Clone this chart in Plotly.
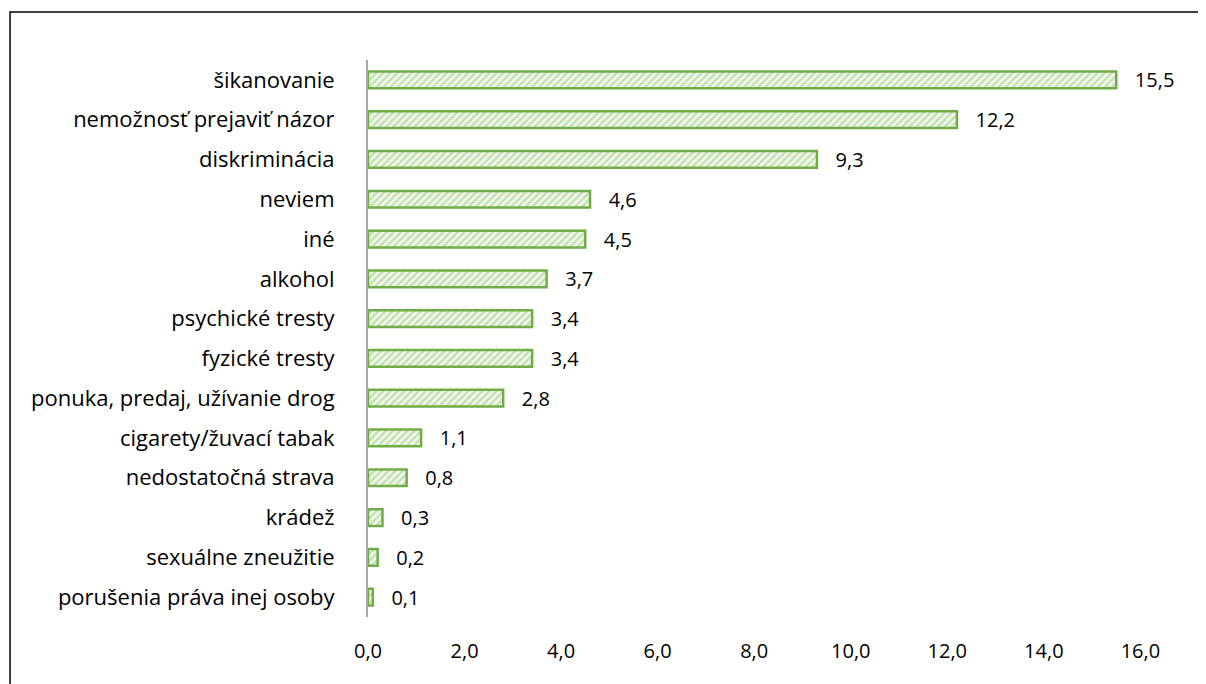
import plotly.graph_objects as go

categories = [
    "šikanovanie",
    "nemožnosť prejaviť názor",
    "diskriminácia",
    "neviem",
    "iné",
    "alkohol",
    "psychické tresty",
    "fyzické tresty",
    "ponuka, predaj, užívanie drog",
    "cigarety/žuvací tabak",
    "nedostatočná strava",
    "krádež",
    "sexuálne zneužitie",
    "porušenia práva inej osoby",
]
values = [15.5, 12.2, 9.3, 4.6, 4.5, 3.7, 3.4, 3.4, 2.8, 1.1, 0.8, 0.3, 0.2, 0.1]
x_ticks = [0, 2, 4, 6, 8, 10, 12, 14, 16]

GREEN = "#70ad47"
FONT = "Open Sans"

fig = go.Figure(go.Bar(
    x=values,
    y=categories,
    orientation="h",
    width=0.42,
    marker=dict(
        color="#f4f9f0",
        line=dict(color=GREEN, width=2.5),
        pattern=dict(shape="/", fgcolor="#94c873", bgcolor="#f4f9f0", size=5, solidity=0.5),
    ),
    text=values,
    texttemplate="\u00a0\u00a0\u00a0%{x:.1f}",
    textposition="outside",
    constraintext="none",
    textfont=dict(family=FONT, size=20, color="black"),
    cliponaxis=False,
))

# the page has an 8px body margin, so margins are shifted to compensate
fig.update_layout(
    width=1206, height=684,
    margin=dict(l=360, r=35, t=52, b=75),
    plot_bgcolor="white", paper_bgcolor="white",
    separators=", ",
    showlegend=False,
    font=dict(family=FONT, size=22, color="black"),
    shapes=[dict(
        type="rect", xref="paper", yref="paper",
        x0=-0.4414, x1=1.08, y0=-0.2, y1=1.086,
        line=dict(color="black", width=1.5), layer="below",
    )],
)
fig.update_xaxes(
    range=[0, 16.8], tickvals=x_ticks, tickformat=".1f",
    showgrid=False, zeroline=False, showline=False,
    ticklabelstandoff=20, tickfont=dict(family=FONT, size=20),
)
fig.update_yaxes(
    autorange="reversed",
    showgrid=False, showline=True, linecolor="#a6a6a6", linewidth=2,
    ticks="", ticklabelstandoff=27,
)

fig.write_html("out.html")
